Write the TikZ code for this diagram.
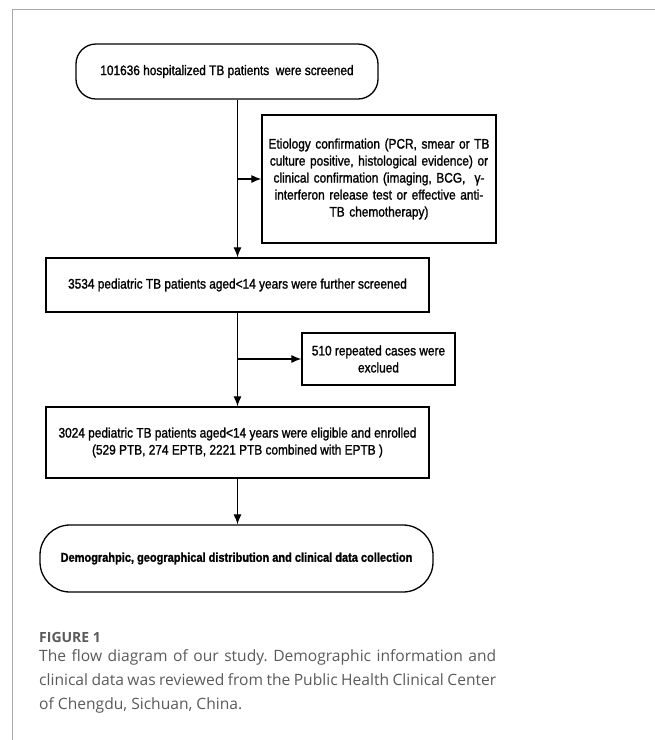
\documentclass[tikz,border=0pt]{standalone}
\usepackage{fontspec}
\usepackage{tikz}
\usetikzlibrary{arrows.meta}
\newfontfamily\boxfont[FakeStretch=0.86, FakeBold=1.3]{Liberation Sans}
\newfontfamily\capfont{Open Sans}
\definecolor{framegray}{HTML}{A8A8A8}
\definecolor{capgray}{HTML}{5A5A5A}
\tikzset{>={Latex[length=10pt, width=8pt]}}
\tikzset{rect/.style = {draw, line width = 1.3, align = center, inner sep = 0, font = \boxfont\fontsize{13.8}{17}\selectfont}}
\tikzset{term/.style = {rect, rounded corners = 20}}

\begin{document}
\frenchspacing
\begin{tikzpicture}[x = 1pt, y = -1pt]
    \useasboundingbox (0, 0) rectangle (655, 740);
    \draw [framegray, line width = 1] (12, 740) -- (12, 9) -- (655, 9);

    \node [term, minimum width = 302, minimum height = 55] (screen) at (227, 71.5) {101636 hospitalized TB patients\ \ were screened};
    \node [rect, minimum width = 234, minimum height = 128, text width = 224] (etio) at (379, 179) {Etiology confirmation (PCR, smear or TB culture positive, histological evidence) or clinical confirmation (imaging, BCG,\ \ γ-\\interferon release test or effective anti-\\TB chemotherapy)};
    \node [rect, minimum width = 383, minimum height = 54] (peds) at (237.5, 285) {3534 pediatric TB patients aged<14 years were further screened};
    \node [rect, minimum width = 153, minimum height = 52] (excl) at (378.5, 359) {510 repeated cases were\\exclued};
    \node [rect, minimum width = 383, minimum height = 71] (enrol) at (237.5, 442.5) {3024 pediatric TB patients aged<14 years were eligible and enrolled\\(529 PTB, 274 EPTB, 2221 PTB combined with EPTB )};
    \node [term, rounded corners = 30, minimum width = 393, minimum height = 67, font = \boxfont\bfseries\fontsize{12.8}{15}\selectfont] (collect) at (236.5, 558.5) {Demograhpic, geographical distribution and clinical data collection};

    \coordinate (b1) at (237, 179);
    \coordinate (b2) at (237, 359);
    \draw [->, line width = 1.1] (peds.north |- screen.south) -- (peds.north);
    \draw [->, line width = 1.1] (b1) -- (etio.west);
    \draw [->, line width = 1.1] (peds.south) -- (enrol.north);
    \draw [->, line width = 1.1] (b2) -- (excl.west);
    \draw [->, line width = 1.1] (enrol.south) -- (enrol.south |- collect.north);

    \node [anchor = base west, inner sep = 0, capgray, font = \capfont\bfseries\fontsize{14}{16}\selectfont] (fig) at (39, 642) {FIGURE 1};
    \node [anchor = north west, inner sep = 0, capgray, text width = 457, align = justify, font = \capfont\fontsize{15.6}{24}\selectfont] (cap) at (39, 649) {The flow diagram of our study. Demographic information and clinical data was reviewed from the Public Health Clinical Center of Chengdu, Sichuan, China.};
\end{tikzpicture}
\end{document}
